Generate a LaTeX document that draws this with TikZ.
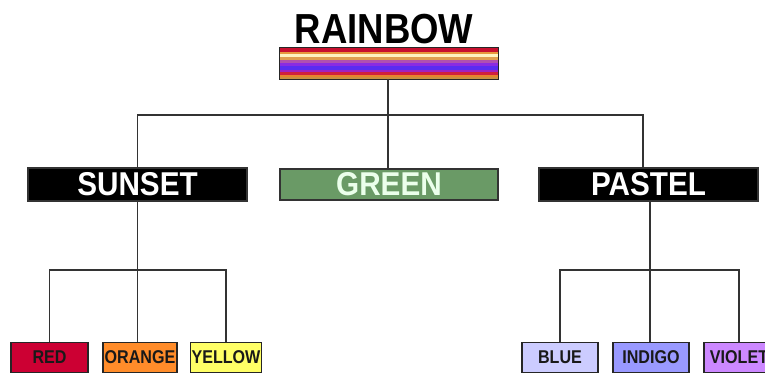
\documentclass[tikz,border=0pt]{standalone}
\usepackage{fontspec}
\usepackage{graphicx}
\setmainfont{Liberation Sans}

% stripe colours of the title bar
\definecolor{stRed}{HTML}{C8102E}
\definecolor{stOrange}{HTML}{E89A3C}
\definecolor{stCream}{HTML}{FFF4C0}
\definecolor{stTan}{HTML}{E0A050}
\definecolor{stMauve}{HTML}{B050B0}
\definecolor{stViolet}{HTML}{8A2BE2}
\definecolor{stBlue}{HTML}{5A2CF0}
\definecolor{stPurple}{HTML}{A020C0}
\definecolor{stCrimson}{HTML}{D0203C}
\definecolor{stAmber}{HTML}{E8822C}
\definecolor{stBrown}{HTML}{C89040}
% box fills
\definecolor{greenFill}{HTML}{6A9A66}
\definecolor{redFill}{HTML}{CC0033}
\definecolor{orangeFill}{HTML}{FF8C2A}
\definecolor{yellowFill}{HTML}{FFFF66}
\definecolor{blueFill}{HTML}{CCCCFF}
\definecolor{indigoFill}{HTML}{9999FF}
\definecolor{violetFill}{HTML}{CC88FF}

\newcommand{\groupText}[1]{\scalebox{0.9}[1]{#1}}
\newcommand{\leafText}[1]{\scalebox{0.87}[1]{#1}}

\begin{document}
\begin{tikzpicture}[x=1pt,y=-1pt,
  conn/.style={draw=black!80, line width=1.4pt},
  groupbox/.style={draw=black!80, line width=1.2pt, minimum width=218pt,
    minimum height=32pt, inner sep=0pt, text=white,
    font=\bfseries\fontsize{33}{33}\selectfont},
  leafbox/.style={draw=black!85, line width=1.2pt, minimum height=29.5pt,
    inner sep=0pt, text=black!90, font=\bfseries\fontsize{18.5}{18.5}\selectfont},
  stripe/.style={fill=#1, draw=none}]

\useasboundingbox (0,0) rectangle (765,373);
\fill[white] (0,0) rectangle (765,373);
\clip (0,0) rectangle (765,373);

% title and rainbow bar
\node[anchor=base, inner sep=0pt, font=\bfseries\fontsize{42}{42}\selectfont]
  (title) at (384,43) {\scalebox{0.87}[1]{RAINBOW}};
\node[minimum width=218pt, minimum height=31pt, inner sep=0pt] (bar) at (389,63.5) {};
\begin{scope}
  \path[stripe=stRed]     (280,48)   rectangle (498,51.5);
  \path[stripe=stOrange]  (280,51.5) rectangle (498,54);
  \path[stripe=stCream]   (280,54)   rectangle (498,57);
  \path[stripe=stTan]     (280,57)   rectangle (498,59.5);
  \path[stripe=stMauve]   (280,59.5) rectangle (498,62.5);
  \path[stripe=stViolet]  (280,62.5) rectangle (498,66);
  \path[stripe=stBlue]    (280,66)   rectangle (498,69.5);
  \path[stripe=stPurple]  (280,69.5) rectangle (498,72);
  \path[stripe=stCrimson] (280,72)   rectangle (498,74.5);
  \path[stripe=stAmber]   (280,74.5) rectangle (498,77);
  \path[stripe=stBrown]   (280,77)   rectangle (498,79);
\end{scope}
\draw[black!85, line width=1.2pt] (bar.north west) rectangle (bar.south east);

% second level
\node[groupbox, fill=black, minimum width=219pt, minimum height=33pt] (sunset) at (137.5,184.5)
  {\groupText{SUNSET}};
\node[groupbox, fill=greenFill, text=white!92!green, minimum height=31pt] (green) at (389,184.5)
  {\groupText{GREEN}};
\node[groupbox, fill=black, minimum width=219pt, minimum height=33pt] (pastel) at (648.5,184.5)
  {\groupText{PASTEL}};

% third level
\node[leafbox, fill=redFill, minimum width=77pt]    (red)    at (49.5,357.5)  {\leafText{RED}};
\node[leafbox, fill=orangeFill, minimum width=74pt] (orange) at (140,357.5)   {\leafText{ORANGE}};
\node[leafbox, fill=yellowFill, minimum width=71pt] (yellow) at (226,357.5)   {\leafText{YELLOW}};
\node[leafbox, fill=blueFill, minimum width=76pt]   (blue)   at (560,357.5)   {\leafText{BLUE}};
\node[leafbox, fill=indigoFill, minimum width=76pt] (indigo) at (651,357.5)   {\leafText{INDIGO}};
\node[leafbox, fill=violetFill, minimum width=70pt] (violet) at (739,357.5)   {\leafText{VIOLET}};

% connectors
\coordinate (topsplit) at ([xshift=-1pt]bar.south |- 0,115);
\draw[conn] ([xshift=-1pt]bar.south) -- ([xshift=-1pt]green.north);
\draw[conn] (sunset.north) |- (topsplit) -| ([xshift=-5.5pt]pastel.north);

\coordinate (sunsplit) at (sunset.south |- 0,270);
\draw[conn] (sunset.south) -- (sunset.south |- orange.north);
\draw[conn] (red.north) |- (sunsplit) -| (yellow.north);

\coordinate (pastsplit) at ([xshift=1.5pt]pastel.south |- 0,270);
\draw[conn] ([xshift=1.5pt]pastel.south) -- ([xshift=1.5pt]pastel.south |- indigo.north);
\draw[conn] (blue.north) |- (pastsplit) -| (violet.north);
\end{tikzpicture}
\end{document}
